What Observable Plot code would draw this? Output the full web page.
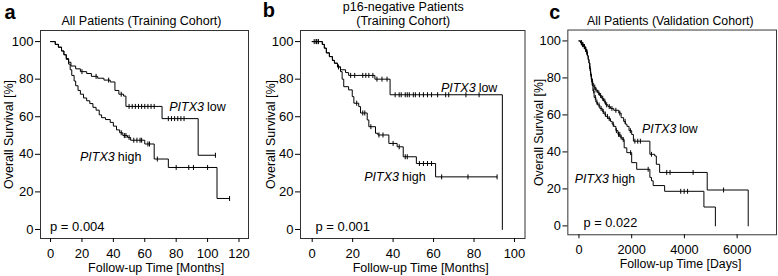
<!DOCTYPE html>
<html><head><meta charset="utf-8">
<script src="https://cdn.jsdelivr.net/npm/d3@7"></script>
<script src="https://cdn.jsdelivr.net/npm/@observablehq/plot@0.6"></script>
<style>
html,body{margin:0;padding:0;background:#fff;overflow:hidden;width:778px;height:276px}
.panel{position:absolute;top:0}
</style></head><body>
<div id="pa" class="panel" style="left:0px"></div>
<div id="pb" class="panel" style="left:258px"></div>
<div id="pc" class="panel" style="left:526px"></div>
<script>
// ---------- Data ----------
const yTicks = [0, 20, 40, 60, 80, 100];
const aTicks = [0, 20, 40, 60, 80, 100, 120];
const bTicks = [0, 20, 40, 60, 80, 100];
const cTicks = [0, 2000, 4000, 6000];

// Panel a: All Patients (Training Cohort), months
const aLowT  = [0, 3, 5, 7, 8.5, 10, 11.5, 13, 16, 19, 23, 26, 30, 34, 38, 41, 43.5, 46.5, 48, 71, 94];
const aLowS  = [100, 98.5, 97, 95, 93, 91, 89, 87, 85.5, 84, 83, 81.5, 80.5, 79.5, 78.5, 74, 72, 71, 65.5, 59, 39.5];
const aLowEnd = 105;
const aLowCens = [20, 29, 37, 45, 50, 52, 54, 56, 58, 60, 62, 64, 66, 75, 77, 79, 81, 83, 85, 105];
const aHighT = [0, 3, 5, 7, 8.5, 10, 11.5, 12.5, 13.5, 15, 16, 17.5, 19, 21, 23, 25, 27, 29, 31, 32.5, 35, 38, 40, 42, 44, 46, 49, 51, 60, 66, 75, 106];
const aHighS = [100, 98.5, 97, 95, 93, 90.5, 88, 85, 82, 79, 76.5, 74, 72, 70, 68.5, 67, 65, 63.5, 61, 59.5, 58.5, 57, 55, 53, 51.5, 50, 49, 47.5, 45.5, 37.5, 33, 16.5];
const aHighEnd = 114;
const aHighCens = [45, 47, 48, 50, 53, 55, 57, 58, 62, 63, 68, 80, 88, 91, 100, 114];

// Panel b: p16-negative Patients (Training Cohort), months
const bLowT  = [0, 5, 6, 7, 8.5, 10, 11, 12.5, 14, 16.5, 18, 31, 38.5, 94];
const bLowS  = [100, 98.5, 96.5, 94, 92, 90, 88.5, 86.5, 85, 83.5, 82, 80, 71.7, 0];
const bLowEnd = 94;
const bLowCens = [1, 2, 3, 19, 21, 25, 26.5, 28, 30, 32, 34.5, 37, 41, 43, 44, 46, 47, 48, 50, 51, 53, 55, 57, 59, 62, 66, 67.5, 76, 82.5];
const bHighT = [0, 5, 6, 7, 8.5, 10, 11, 12.5, 14, 14.8, 15.6, 18, 19.8, 20.6, 23, 23.9, 27.2, 28, 31.3, 32.5, 37.9, 42, 45, 51.5, 61];
const bHighS = [100, 98.5, 96.5, 94, 92, 90, 88.5, 86.5, 84, 80, 76, 74.3, 70.7, 67.2, 65.4, 62, 58.3, 54.7, 51.2, 50.3, 45.8, 44, 38.7, 35.1, 28];
const bHighEnd = 91.4;
const bHighCens = [2, 3, 13, 22, 25, 26, 29, 33, 35, 40, 43, 46, 47, 53, 55, 57, 59, 64, 77, 91.4];

// Panel c: All Patients (Validation Cohort), days
const cLowT  = [0, 60, 120, 180, 230, 280, 320, 350, 380, 410, 440, 470, 510, 560, 620, 700, 780, 860, 930, 1010, 1100, 1195, 1320, 1510, 1600, 1695, 1760, 1820, 1900, 2000, 2065, 2690, 2875, 2935, 3060, 4865, 6420];
const cLowS  = [100, 99, 98, 97, 95.5, 94, 92, 90, 88, 85, 82, 79.5, 77, 75, 73.5, 72, 70.5, 69, 67.5, 65.5, 64.5, 63.5, 62.5, 61, 58.5, 56.5, 55, 53.8, 51.5, 49.4, 45.8, 38.7, 37.8, 33.3, 28.9, 19.4, 0];
const cLowEnd = 6420;
const cLowCens = [100, 150, 200, 260, 300, 450, 520, 600, 650, 750, 820, 900, 980, 1050, 1150, 1250, 1400, 1550, 1750, 1950, 2120, 2230, 2330, 2750, 3330, 3455, 4330, 5485];
const cHighT = [0, 60, 120, 180, 230, 280, 320, 350, 380, 410, 440, 470, 500, 530, 575, 640, 700, 790, 885, 950, 1010, 1100, 1195, 1260, 1320, 1400, 1480, 1560, 1640, 1715, 1815, 2000, 2190, 2690, 2750, 2815, 3250, 4740, 5175];
const cHighS = [100, 99, 98, 97, 95.5, 94, 92, 90, 88, 85, 82, 79, 76, 73, 69.5, 67, 65.4, 63.5, 61.9, 60.5, 59.2, 58, 56.5, 55, 53.8, 51.5, 49.5, 48, 46.7, 42.2, 39.6, 34.2, 30.6, 26.2, 24.4, 21.8, 18.7, 10.2, 0];
const cHighEnd = 5175;
const cHighCens = [90, 140, 210, 250, 300, 420, 480, 560, 620, 680, 760, 840, 920, 1000, 1080, 1150, 1300, 1420, 1500, 1550, 1600, 1680, 1960, 2625, 3860, 3990, 4120];

// ---------- Helpers ----------
function steps(T, S, end) {
  const out = T.map((t, i) => ({t, s: S[i]}));
  if (end > T[T.length - 1]) out.push({t: end, s: S[S.length - 1]});
  return out;
}
function cens(T, S, C) {
  return C.map(c => {
    let s = S[0];
    for (let i = 0; i < T.length; i++) if (T[i] <= c) s = S[i];
    return {t: c, s};
  });
}
const vtick = {draw(ctx, size) { const r = Math.sqrt(size / Math.PI); ctx.moveTo(0, -r); ctx.lineTo(0, r); }};
const FONT = "'Liberation Sans', Arial, Helvetica, sans-serif";

function panel(cfg) {
  const low = steps(cfg.lowT, cfg.lowS, cfg.lowEnd);
  const high = steps(cfg.highT, cfg.highS, cfg.highEnd);
  const cl = cens(cfg.lowT, cfg.lowS, cfg.lowC);
  const ch = cens(cfg.highT, cfg.highS, cfg.highC);
  return Plot.plot({
    width: cfg.width, height: 276,
    marginLeft: cfg.ml, marginRight: cfg.mr, marginTop: 30, marginBottom: 38,
    style: {fontFamily: FONT, fontSize: "12.5px", color: "#000", background: "transparent", overflow: "visible"},
    x: {domain: cfg.xDomain},
    y: {domain: [-4.8, 105.9]},
    marks: [
      Plot.frame({stroke: "#333", strokeWidth: 1}),
      Plot.axisY({ticks: yTicks, tickSize: 5, tickPadding: 2, label: null, fontSize: 13}),
      Plot.axisX({ticks: cfg.xTicks, tickSize: 4, tickPadding: 6, label: null, fontSize: 13, tickFormat: d3.format("d")}),
      Plot.line(low, {x: "t", y: "s", curve: "step-after", stroke: "#000", strokeWidth: 1}),
      Plot.line(high, {x: "t", y: "s", curve: "step-after", stroke: "#000", strokeWidth: 1}),
      Plot.dot(cl, {x: "t", y: "s", r: 2.5, symbol: vtick, stroke: "#000", fill: "none", strokeWidth: 1}),
      Plot.dot(ch, {x: "t", y: "s", r: 2.5, symbol: vtick, stroke: "#000", fill: "none", strokeWidth: 1}),
      Plot.text([cfg.title], {frameAnchor: "top", textAnchor: "middle", lineAnchor: "middle", dx: cfg.titleDx, dy: cfg.titleDy, lineHeight: 1.07, fontSize: 12.5}),
      Plot.text([cfg.letter], {frameAnchor: "top-left", textAnchor: "middle", lineAnchor: "middle", dx: cfg.letterDx, dy: cfg.letterDy, fontSize: 20, fontWeight: "bold"}),
      Plot.text(["Overall Survival [%]"], {frameAnchor: "left", textAnchor: "middle", lineAnchor: "middle", rotate: -90, dx: cfg.ylabDx, fontSize: 12.5}),
      Plot.text([cfg.xlab], {frameAnchor: "bottom", textAnchor: "middle", lineAnchor: "middle", dx: cfg.xlabDx, dy: 29.5, fontSize: 12.5}),
      Plot.text([cfg.p], {frameAnchor: "bottom-left", textAnchor: "start", lineAnchor: "middle", dx: cfg.pDx, dy: -12, fontSize: 13}),
      Plot.text([cfg.lowPos], {x: "x", y: "y", text: () => "PITX3", fontStyle: "italic", textAnchor: "end", lineAnchor: "middle", fontSize: 12.5}),
      Plot.text([cfg.lowPos], {x: "x", y: "y", text: () => "low", textAnchor: "start", lineAnchor: "middle", dx: 3, fontSize: 12.5}),
      Plot.text([cfg.highPos], {x: "x", y: "y", text: () => "PITX3", fontStyle: "italic", textAnchor: "end", lineAnchor: "middle", fontSize: 12.5}),
      Plot.text([cfg.highPos], {x: "x", y: "y", text: () => "high", textAnchor: "start", lineAnchor: "middle", dx: 3, fontSize: 12.5})
    ]
  });
}

document.getElementById("pa").append(panel({
  width: 258, ml: 40, mr: 10, xDomain: [-6.4, 126.05], xTicks: aTicks,
  lowT: aLowT, lowS: aLowS, lowEnd: aLowEnd, lowC: aLowCens,
  highT: aHighT, highS: aHighS, highEnd: aHighEnd, highC: aHighCens,
  title: "All Patients (Training Cohort)", titleDx: -3, titleDy: -9.3,
  letter: "a", letterDx: -30.5, letterDy: -18,
  ylabDx: -32, xlab: "Follow-up Time [Months]", xlabDx: 11.7,
  p: "p = 0.004", pDx: 9.5,
  lowPos: {x: 97.7, y: 65.4}, highPos: {x: 40.9, y: 38.7}
}));
document.getElementById("pb").append(panel({
  width: 268, ml: 42, mr: 1.5, xDomain: [-5.78, 105.2], xTicks: bTicks,
  lowT: bLowT, lowS: bLowS, lowEnd: bLowEnd, lowC: bLowCens,
  highT: bHighT, highS: bHighS, highEnd: bHighEnd, highC: bHighCens,
  title: "p16-negative Patients\n(Training Cohort)", titleDx: -9.5, titleDy: -16.6,
  letter: "b", letterDx: -31.7, letterDy: -19.7,
  ylabDx: -30, xlab: "Follow-up Time [Months]", xlabDx: 8,
  p: "p = 0.001", pDx: 15,
  lowPos: {x: 80.8, y: 75.2}, highPos: {x: 42.9, y: 28}
}));
document.getElementById("pc").append(panel({
  width: 256, ml: 42, mr: 2, xDomain: [-422, 7494], xTicks: cTicks,
  lowT: cLowT, lowS: cLowS, lowEnd: cLowEnd, lowC: cLowCens,
  highT: cHighT, highS: cHighS, highEnd: cHighEnd, highC: cHighCens,
  title: "All Patients (Validation Cohort)", titleDx: -2, titleDy: -9.3,
  letter: "c", letterDx: -13.3, letterDy: -18,
  ylabDx: -29, xlab: "Follow-up Time [Days]", xlabDx: 8.5,
  p: "p = 0.022", pDx: 16,
  lowPos: {x: 3690, y: 52.4}, highPos: {x: 1138, y: 25.3}
}));
</script>
</body></html>
